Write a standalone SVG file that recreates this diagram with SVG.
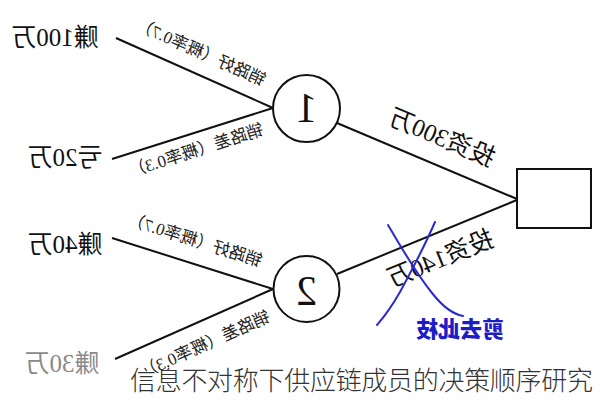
<svg xmlns="http://www.w3.org/2000/svg" width="596" height="400" viewBox="0 0 596 400">
<style>
.ln{stroke:#111;stroke-width:2;fill:none}
.nd{stroke:#111;stroke-width:2;fill:#fff}
.lf{font-family:"Liberation Serif","Noto Sans CJK SC",serif;font-size:25px;fill:#111;text-anchor:middle}
.pb{font-family:"Liberation Serif","Noto Sans CJK SC",serif;font-size:17px;fill:#222;text-anchor:middle}
.inv{font-family:"Liberation Serif","Noto Sans CJK SC",serif;font-size:25px;fill:#111;text-anchor:middle}
.num{font-family:"Liberation Serif",serif;font-size:42px;fill:#111;text-anchor:middle}
.cut{stroke:#2a2ad0;stroke-width:2;fill:none;stroke-linecap:round}
</style>
<rect width="596" height="400" fill="#fff"/>
<g id="connectors">
<line class="ln" x1="116" y1="38" x2="273" y2="108"/>
<line class="ln" x1="112" y1="159" x2="273" y2="108"/>
<line class="ln" x1="337" y1="123" x2="517" y2="199"/>
<line class="ln" x1="517" y1="200" x2="337" y2="274"/>
<line class="ln" x1="112" y1="238" x2="273" y2="289"/>
<line class="ln" x1="115" y1="359" x2="273" y2="289"/>
</g>
<g id="decision"><rect class="nd" x="517" y="169" width="74" height="59"/></g>
<g id="node1"><circle class="nd" cx="306.5" cy="108.5" r="33.5"/>
<text class="num" transform="matrix(-1 0 0 1 613 0)" x="306.5" y="122">1</text></g>
<g id="node2"><circle class="nd" cx="306.5" cy="289" r="33"/>
<text class="num" transform="matrix(-1 0 0 1 613 0)" x="306.5" y="305">2</text></g>
<g id="labels" transform="matrix(-1 0 0 1 596 0)">
<text class="lf" x="541" y="46">赚100万</text>
<text class="lf" x="531" y="166">亏20万</text>
<text class="lf" x="531" y="253">赚40万</text>
<text class="lf" x="534" y="372" style="fill:#8a8a8a">赚30万</text>
<text class="pb" transform="translate(395,52) rotate(-24.2)" y="6">销路好（概率0.7）</text>
<text class="pb" transform="translate(400,150) rotate(17.7)" y="6">销路差（概率0.3）</text>
<text class="pb" transform="translate(401,240) rotate(-17.7)" y="6">销路好（概率0.7）</text>
<text class="pb" transform="translate(391,344) rotate(24)" y="6">销路差（概率0.3）</text>
<text class="inv" transform="translate(154,137) rotate(-22.7)" y="9">投资300万</text>
<text class="inv" transform="translate(156,258) rotate(22.1)" y="9">投资140万</text>
<text x="136" y="337" style="font-family:'Noto Sans CJK SC',sans-serif;font-size:22px;font-weight:900;fill:#1c1cc8;text-anchor:middle">剪去此枝</text>
</g>
<g id="cutmark">
<path class="cut" d="M388,225 C400,245 415,272 432,293 C443,307 452,314 463,316"/>
<path class="cut" d="M435,222 C425,245 412,270 400,292 C392,306 384,317 377,325"/>
</g>
<text x="130" y="390" textLength="463" style="font-family:'Noto Sans CJK SC',sans-serif;font-size:26px;font-weight:300;fill:#333">信息不对称下供应链成员的决策顺序研究</text>
</svg>
